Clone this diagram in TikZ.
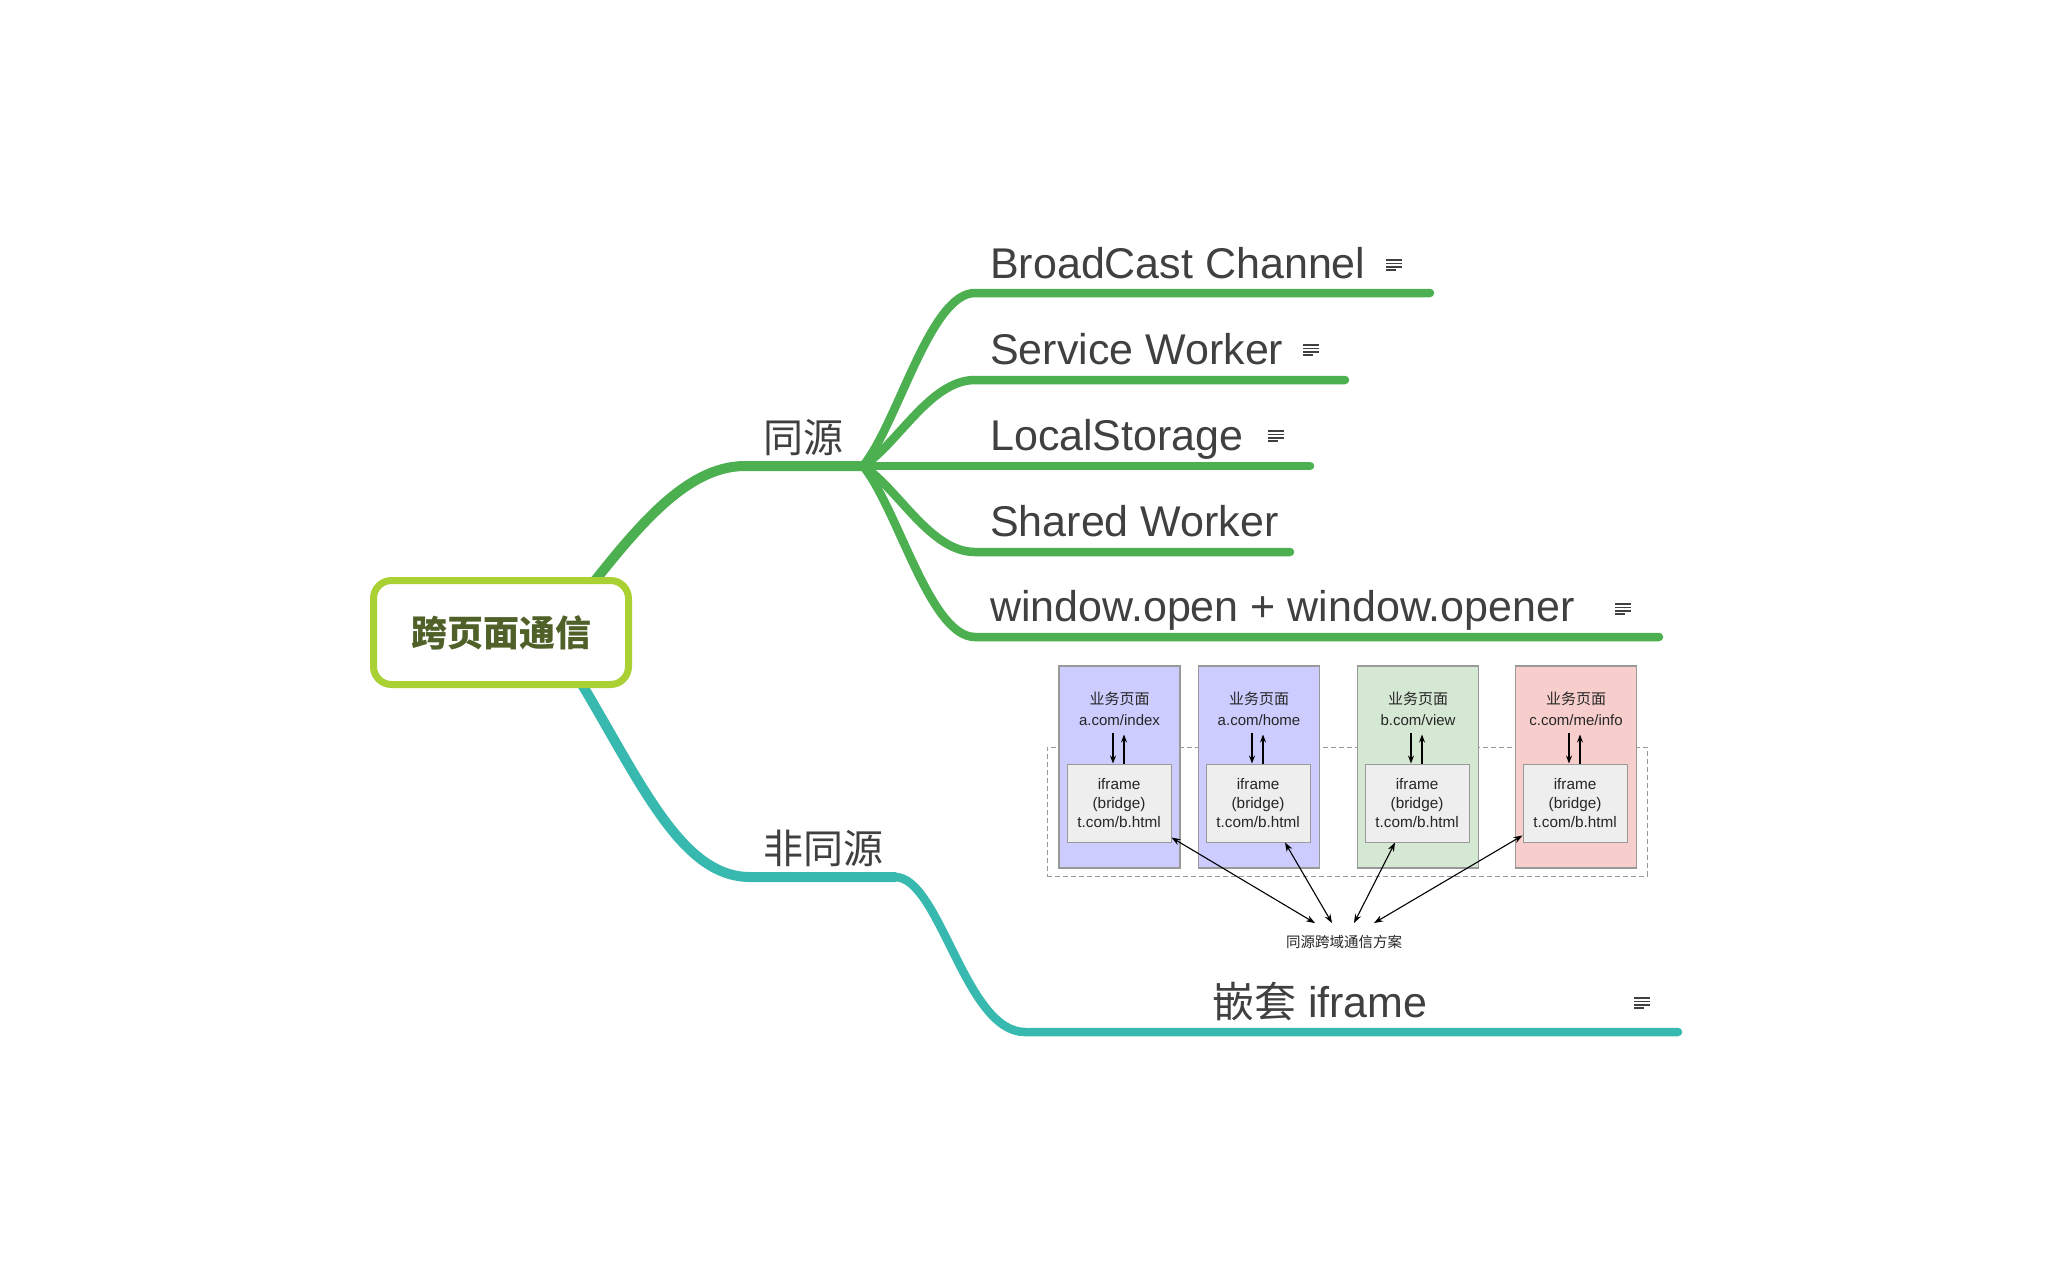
\documentclass[tikz,border=0pt]{standalone}
\usepackage{fontspec}
\setmainfont{Noto Sans CJK SC}
\newfontfamily\helv{Liberation Sans}
\usetikzlibrary{arrows.meta,calc,backgrounds}
\definecolor{brgreen}{HTML}{4CAF50}
\definecolor{brteal}{HTML}{38B9AF}
\definecolor{rootline}{HTML}{A9D134}
\definecolor{roottext}{HTML}{4F6128}
\definecolor{txt}{HTML}{404040}
\definecolor{boxblue}{HTML}{CCCCFF}
\definecolor{boxgreen}{HTML}{D5E8D4}
\definecolor{boxpink}{HTML}{F8CECC}
\definecolor{boxgrey}{HTML}{EEEEEE}
\definecolor{edgegrey}{HTML}{999999}
\tikzset{
  noteicon/.pic={
    \draw[line width=1.6pt, txt] (-8,-5) -- (8,-5);
    \draw[line width=1.6pt, txt] (-8,-1.6) -- (8,-1.6);
    \draw[line width=1.6pt, txt] (-8,1.8) -- (8,1.8);
    \draw[line width=1.6pt, txt] (-8,5.2) -- (2,5.2);
  }
}
\begin{document}
\begin{tikzpicture}[x=1pt,y=-1pt,
  mainline/.style={line width=10pt, line cap=round},
  subline/.style={line width=8.5pt, line cap=round, draw=brgreen},
  topic/.style={anchor=base west, inner sep=0pt, text=txt, font=\helv\fontsize{43}{50}\selectfont},
  midtopic/.style={anchor=base, inner sep=0pt, text=txt, font=\fontsize{40}{48}\selectfont},
  pagebox/.style={draw=edgegrey, line width=1.2pt, minimum width=121pt, minimum height=202pt, inner sep=0pt},
  bridge/.style={draw=edgegrey, fill=boxgrey, line width=1pt, minimum width=104pt, minimum height=78pt, inner sep=0pt, align=center, text=black!85, font=\helv\fontsize{15.3}{19}\selectfont},
  ptitle/.style={align=center, inner sep=0pt, text=black!85, font=\fontsize{15}{21}\selectfont},
  arr/.style={-{Stealth[length=8pt,width=6pt]}, line width=1.1pt},
  barr/.style={{Stealth[length=9pt,width=6.5pt]}-{Stealth[length=9pt,width=6.5pt]}, line width=1.1pt},
]
\useasboundingbox (0,0) rectangle (2048,1266);

% ---------- root ----------
\node (root) [draw=rootline, line width=7pt, fill=white, rounded corners=18pt,
  minimum width=255pt, minimum height=104pt, inner sep=0pt, text=roottext,
  font=\fontsize{36}{40}\selectfont\bfseries] at (501,632.5) {跨页面通信};

% ---------- second level ----------
\node (same) [midtopic] at (803,452) {同源};
\node (diff) [midtopic] at (823,863) {非同源};
\coordinate (sameL) at (745,466);
\coordinate (fan) at (863,466);
\coordinate (diffL) at (750,877);
\coordinate (diffR) at (895,877);

% ---------- leaves ----------
\node (bc) [topic] at (990,278) {BroadCast Channel};
\node (sw) [topic] at (990,364) {Service Worker};
\node (ls) [topic] at (990,450) {LocalStorage};
\node (shw) [topic] at (990,536) {Shared Worker};
\node (wo) [topic] at (990,621) {window.open + window.opener};
\node (ifr) [topic] at (1212,1017) {{\rmfamily\fontsize{42}{50}\selectfont 嵌套} iframe};

\coordinate (bcL) at (975,293);  \coordinate (bcR) at (1430,293);
\coordinate (swL) at (975,380);  \coordinate (swR) at (1345,380);
\coordinate (lsR) at (1310,466);
\coordinate (shL) at (975,552);  \coordinate (shR) at (1290,552);
\coordinate (woL) at (975,637);  \coordinate (woR) at (1659,637);
\coordinate (ifL) at (1025,1032); \coordinate (ifR) at (1678,1032);

\pic at (1394,265) {noteicon};
\pic at (1311,350) {noteicon};
\pic at (1276,436) {noteicon};
\pic at (1623,609) {noteicon};
\pic at (1642,1003) {noteicon};

% ---------- branch lines ----------
\begin{scope}[on background layer]
\fill[white] (0,0) rectangle (2048,1266);
\draw[mainline, brgreen] ([xshift=-50pt,yshift=-20pt]root.north east)
   .. controls (635,530) and (685,466) .. (sameL) -- (fan);
\draw[subline] (fan) .. controls (898,423) and (930,293) .. (bcL) -- (bcR);
\draw[subline] (fan) .. controls (898,444) and (930,380) .. (swL) -- (swR);
\draw[subline] (fan) -- (lsR);
\draw[subline] (fan) .. controls (898,488) and (930,552) .. (shL) -- (shR);
\draw[subline] (fan) .. controls (898,509) and (930,637) .. (woL) -- (woR);
\draw[mainline, brteal] ([xshift=-58pt,yshift=17pt]root.south east)
   .. controls (640,780) and (680,877) .. (diffL) -- (diffR);
\draw[subline, draw=brteal] (diffR) .. controls (940,877) and (965,1032) .. (ifL) -- (ifR);
\end{scope}

% ---------- embedded diagram ----------
\node (frame) [draw=edgegrey, dashed, line width=1pt, dash pattern=on 5pt off 3pt,
  minimum width=600pt, minimum height=129pt, inner sep=0pt] at (1347,811.5) {};

\node (p1) [pagebox, fill=boxblue]  at (1119.5,767) {};
\node (p2) [pagebox, fill=boxblue]  at (1259,767) {};
\node (p3) [pagebox, fill=boxgreen] at (1418,767) {};
\node (p4) [pagebox, fill=boxpink]  at (1576,767) {};

\node (t1) [ptitle] at (1119.5,709) {业务页面\\{\helv a.com/index}};
\node (t2) [ptitle] at (1259,709) {业务页面\\{\helv a.com/home}};
\node (t3) [ptitle] at (1418,709) {业务页面\\{\helv b.com/view}};
\node (t4) [ptitle] at (1576,709) {业务页面\\{\helv c.com/me/info}};

\node (b1) [bridge] at (1119,803) {iframe\\(bridge)\\t.com/b.html};
\node (b2) [bridge] at (1258,803) {iframe\\(bridge)\\t.com/b.html};
\node (b3) [bridge] at (1417,803) {iframe\\(bridge)\\t.com/b.html};
\node (b4) [bridge] at (1575,803) {iframe\\(bridge)\\t.com/b.html};

\foreach \b in {b1,b2,b3,b4}{
  \draw[arr] ([xshift=-6pt,yshift=31pt]\b.north) -- ([xshift=-6pt]\b.north);
  \draw[arr] ([xshift=5pt]\b.north) -- ([xshift=5pt,yshift=29pt]\b.north);
}

\node (lab) [inner xsep=0pt, inner ysep=12pt, text=black!85, font=\fontsize{14.5}{16}\selectfont] at (1344,942) {同源跨域通信方案};

\draw[barr] ([xshift=-29pt]lab.north) -- ([yshift=5pt]b1.south east);
\draw[barr] ([xshift=-12pt]lab.north) -- ([xshift=27pt]b2.south);
\draw[barr] ([xshift=10pt]lab.north) -- ([xshift=-22pt]b3.south);
\draw[barr] ([xshift=30pt]lab.north) -- ([yshift=7pt]b4.south west);

\end{tikzpicture}
\end{document}
